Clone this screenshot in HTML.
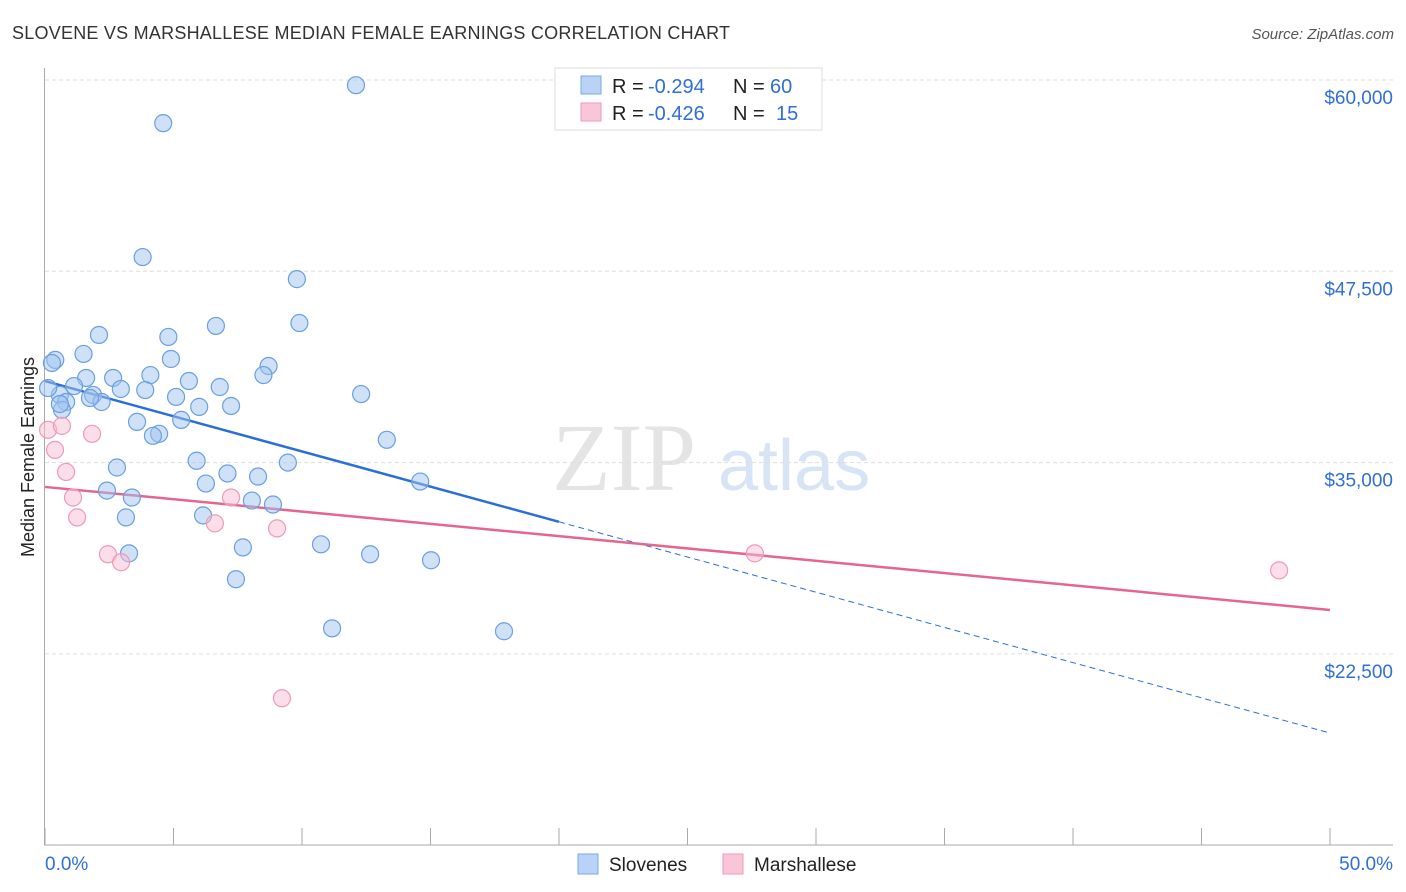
<!DOCTYPE html>
<html><head><meta charset="utf-8"><style>
body{margin:0;background:#fff;font-family:"Liberation Sans",sans-serif;}
#c{position:absolute;left:0;top:0;width:1406px;height:892px;}
</style></head><body>
<svg id="c" width="1406" height="892" xmlns="http://www.w3.org/2000/svg">
<text x="12" y="39" font-size="18" fill="#333" textLength="718">SLOVENE VS MARSHALLESE MEDIAN FEMALE EARNINGS CORRELATION CHART</text>
<text x="1394" y="39" font-size="15" fill="#555" font-style="italic" text-anchor="end">Source: ZipAtlas.com</text>
<text x="34" y="457" font-size="18" fill="#222" text-anchor="middle" transform="rotate(-90 34 457)">Median Female Earnings</text>
<g><text x="552" y="490" font-size="96" fill="#e4e4e4" font-family="Liberation Serif,serif">ZIP</text><text x="718" y="490" font-size="72" fill="#d6e4f5">atlas</text></g>
<g id="grid"></g><g id="axes"></g><g id="lines"></g><g id="pts"></g>
<g>
<rect x="555" y="68" width="267" height="62" fill="#fff" stroke="#ddd"/>
<rect x="581" y="76" width="20" height="18" fill="#b8d3f5" stroke="#7aa8e8"/>
<rect x="581" y="103" width="20" height="18" fill="#f9c6d6" stroke="#f09ab5"/>
<text y="93" font-size="20" fill="#222"><tspan x="612">R =</tspan><tspan x="648" fill="#2f6fd6">-0.294</tspan><tspan x="733">N =</tspan><tspan x="770" fill="#2f6fd6">60</tspan></text>
<text y="120" font-size="20" fill="#222"><tspan x="612">R =</tspan><tspan x="648" fill="#2f6fd6">-0.426</tspan><tspan x="733">N =</tspan><tspan x="776" fill="#2f6fd6">15</tspan></text>
</g>
<g>
<rect x="578" y="854" width="20" height="20" fill="#b8d3f5" stroke="#7aa8e8"/>
<text x="609" y="871" font-size="19" fill="#222">Slovenes</text>
<rect x="723" y="854" width="20" height="20" fill="#f9c6d6" stroke="#f09ab5"/>
<text x="754" y="871" font-size="19" fill="#222">Marshallese</text>
</g>
</svg>
<script>
const yTicks=[60000,47500,35000,22500];
const yTickLabels=["$60,000","$47,500","$35,000","$22,500"];
const xTickLabels=["0.0%","50.0%"];
const slX=[12.1,4.6,3.8,9.8,9.9,2.1,6.65,4.8,1.5,0.4,0.27,4.9,8.7,8.5,4.1,1.6,2.65,5.6,6.8,2.95,3.9,1.13,0.58,12.3,1.87,2.2,0.82,5.1,6.0,7.24,5.3,3.58,4.44,4.2,13.3,0.66,5.9,9.45,2.8,7.1,8.29,14.6,6.26,2.41,3.38,8.05,8.87,3.15,6.15,7.7,10.74,12.65,3.27,15.02,7.43,11.17,17.86,0.12,0.58,1.75];
const slY=[59660,57180,48430,46990,44120,43340,43930,43210,42100,41710,41510,41770,41310,40720,40720,40530,40530,40330,39940,39810,39740,40000,39420,39480,39420,38960,38960,39290,38640,38700,37790,37660,36880,36750,36490,38450,35120,35000,34680,34290,34090,33760,33630,33170,32720,32520,32260,31420,31550,29460,29660,29010,29070,28620,27380,24170,23980,39870,38830,39220];
const msX=[0.12,0.39,0.82,0.66,1.83,1.09,1.25,2.45,2.96,7.24,6.61,9.03,27.62,48.02,9.22];
const msY=[37140,35830,34390,37400,36880,32720,31420,29010,28490,32720,31030,30700,29070,27960,19600];
const blueTrend=[40330,17330];
const pinkTrend=[33410,25370];
const NS="http://www.w3.org/2000/svg";
const X=v=>45+v/50*1285;
const Y=v=>80+(60000-v)*191.3/12500;
function mk(t,a,p){const e=document.createElementNS(NS,t);for(const k in a)e.setAttribute(k,a[k]);p.appendChild(e);return e;}
const grid=document.getElementById('grid'),axes=document.getElementById('axes'),lines=document.getElementById('lines'),pts=document.getElementById('pts');
yTicks.forEach((v,i)=>{
 const l=mk('line',{x1:45,x2:1393,y1:Y(v),y2:Y(v),stroke:'#ddd','stroke-dasharray':'4,3'},grid);
 
 
 const t=mk('text',{x:1393,y:Y(v)+24,'font-size':19,fill:'#2f6fd6','text-anchor':'end'},axes);
 t.textContent=yTickLabels[i];
 
 
});
mk('line',{x1:44.5,x2:44.5,y1:68,y2:845,stroke:'#aaa'},axes);
mk('line',{x1:44,x2:1393,y1:845,y2:845,stroke:'#aaa'},axes);
for(let i=0;i<=10;i++){const tk=mk('line',{x1:X(i*5),x2:X(i*5),y1:828,y2:845,stroke:'#aaa'},axes);
 
 }
const xl0=mk('text',{x:45,y:870,'font-size':19,fill:'#2f6fd6'},axes);xl0.textContent=xTickLabels[0];


const xl1=mk('text',{x:1393,y:870,'font-size':19,fill:'#2f6fd6','text-anchor':'end'},axes);xl1.textContent=xTickLabels[1];


slX.forEach((x,i)=>{const c=mk('circle',{cx:X(x),cy:Y(slY[i]),r:8.5,fill:'rgba(160,196,240,0.5)',stroke:'#6a9fe0','stroke-width':1.2},pts);
 
 });
msX.forEach((x,i)=>{const c=mk('circle',{cx:X(x),cy:Y(msY[i]),r:8.5,fill:'rgba(248,190,208,0.5)',stroke:'#ee9ab6','stroke-width':1.2},pts);
 
 });
const bAt=x=>blueTrend[0]+(blueTrend[1]-blueTrend[0])*x/50;
const bs=mk('line',{x1:X(0),y1:Y(bAt(0)),x2:X(20),y2:Y(bAt(20)),stroke:'#2a6fd8','stroke-width':2.5},lines);


const bd=mk('line',{x1:X(20),y1:Y(bAt(20)),x2:X(50),y2:Y(bAt(50)),stroke:'#2a6fd8','stroke-width':1,'stroke-dasharray':'6,4'},lines);


const pl=mk('line',{x1:X(0),y1:Y(pinkTrend[0]),x2:X(50),y2:Y(pinkTrend[1]),stroke:'#e4668f','stroke-width':2.5},lines);


</script>
</body></html>
